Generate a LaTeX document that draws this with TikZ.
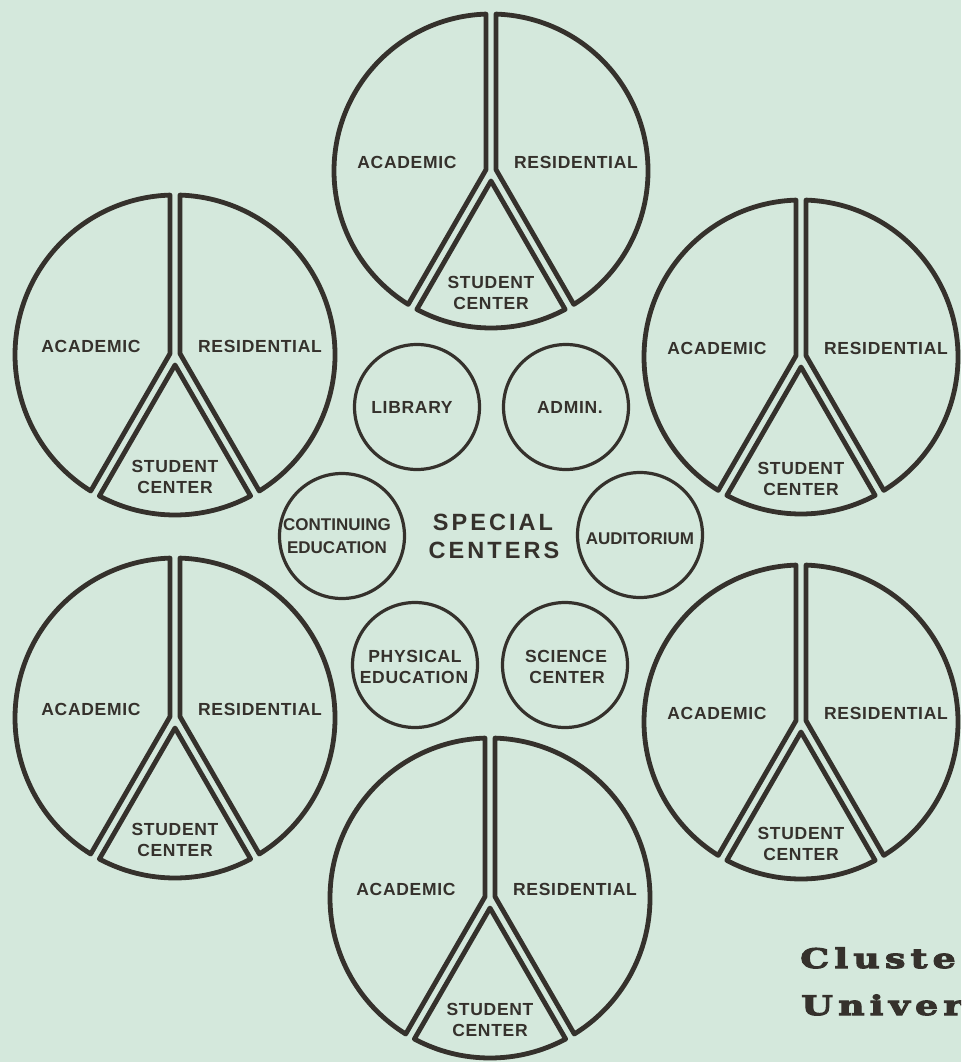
\documentclass[tikz,border=0pt]{standalone}
\usepackage{fontspec}
\newfontfamily\lblfont[LetterSpace=4]{Liberation Sans}
\newfontfamily\condfont{Liberation Sans}
\newfontfamily\titlefont[LetterSpace=13]{Liberation Sans}
\newfontfamily\slabfont[FakeStretch=1.35,LetterSpace=19,FakeBold=4]{DejaVu Serif}
\definecolor{bg}{HTML}{D4E8DC}
\definecolor{ink}{HTML}{35312C}
\def\gapd{5}
\newcommand\peacesign[4]{%
 \begin{scope}[shift={(#2,-#3)}]
  \pgfmathsetmacro\dd{asin(\gapd/#4)}
  \pgfmathsetmacro\apa{\gapd/sin(75)}
  \pgfmathsetmacro\aps{\gapd/sin(30)}
  \coordinate (#1) at (0,0);
  \draw[sector] (165:\apa pt) -- ({90+\dd}:#4pt)
     arc[start angle={90+\dd}, end angle={240-\dd}, radius=#4pt] -- cycle;
  \draw[sector] (270:\aps pt) -- ({240+\dd}:#4pt)
     arc[start angle={240+\dd}, end angle={300-\dd}, radius=#4pt] -- cycle;
  \draw[sector] (15:\apa pt) -- ({-60+\dd}:#4pt)
     arc[start angle={-60+\dd}, end angle={90-\dd}, radius=#4pt] -- cycle;
  \node[lbl] (#1-acad) at (-84,9) {ACADEMIC};
  \node[lbl] (#1-res) at (85,9) {RESIDENTIAL};
  \node[lbl] (#1-stu) at (0,-111) {STUDENT};
  \node[lbl] (#1-cen) at (0,-132) {CENTER};
 \end{scope}}
\begin{document}
\begin{tikzpicture}[x=1pt,y=1pt,
  sector/.style={draw=ink, line width=4.8pt, line join=round},
  small/.style={draw=ink, line width=3.2pt, circle, minimum size=125pt, inner sep=0pt},
  lbl/.style={text=ink, font=\lblfont\bfseries\fontsize{17.5}{20}\selectfont, inner sep=0pt, text height=12.6pt, text depth=0pt},
  clbl/.style={text=ink, font=\condfont\bfseries\fontsize{17}{20}\selectfont, inner sep=0pt, text height=12.2pt, text depth=0pt},
  ttl/.style={text=ink, font=\titlefont\bfseries\fontsize{23.5}{26}\selectfont, inner sep=0pt, text height=16.8pt, text depth=0pt},
  slab/.style={text=ink, font=\slabfont\bfseries\fontsize{27}{30}\selectfont, inner sep=0pt, anchor=base west}]
\fill[bg] (0,0) rectangle (961,-1062);
\useasboundingbox (0,0) rectangle (961,-1062);
\clip (0,0) rectangle (961,-1062);

\peacesign{top}{491}{171}{157}
\peacesign{ul}{175}{355}{160}
\peacesign{ur}{801}{357}{157}
\peacesign{ll}{175}{718}{160}
\peacesign{lr}{801}{722}{157}
\peacesign{bot}{490}{898}{160}

% special centers
\node[small] (library) at (417,-407) {};
\node[small] (admin) at (566,-407) {};
\node[small] (contedu) at (342,-536) {};
\node[small] (audit) at (640,-535) {};
\node[small] (physedu) at (415,-665) {};
\node[small] (science) at (565,-665) {};

\node[lbl] (libraryt) at (412,-407) {LIBRARY};
\node[lbl] (admint) at (570,-407) {ADMIN.};
\node[clbl] (contedu1) at (337,-524) {CONTINUING};
\node[clbl] (contedu2) at (337,-547) {EDUCATION};
\node[clbl] (auditt) at (640,-538) {AUDITORIUM};
\node[lbl] (physedu1) at (415,-656) {PHYSICAL};
\node[lbl] (physedu2) at (414,-677) {EDUCATION};
\node[lbl] (science1) at (566,-656) {SCIENCE};
\node[lbl] (science2) at (567,-677) {CENTER};

\node[ttl] (spec1) at (493,-522) {SPECIAL};
\node[ttl] (spec2) at (494,-550) {CENTERS};

\node[slab] (cluster) at (800,-968) {Cluste};
\node[slab] (univ) at (801,-1015) {Univer};
\end{tikzpicture}
\end{document}
